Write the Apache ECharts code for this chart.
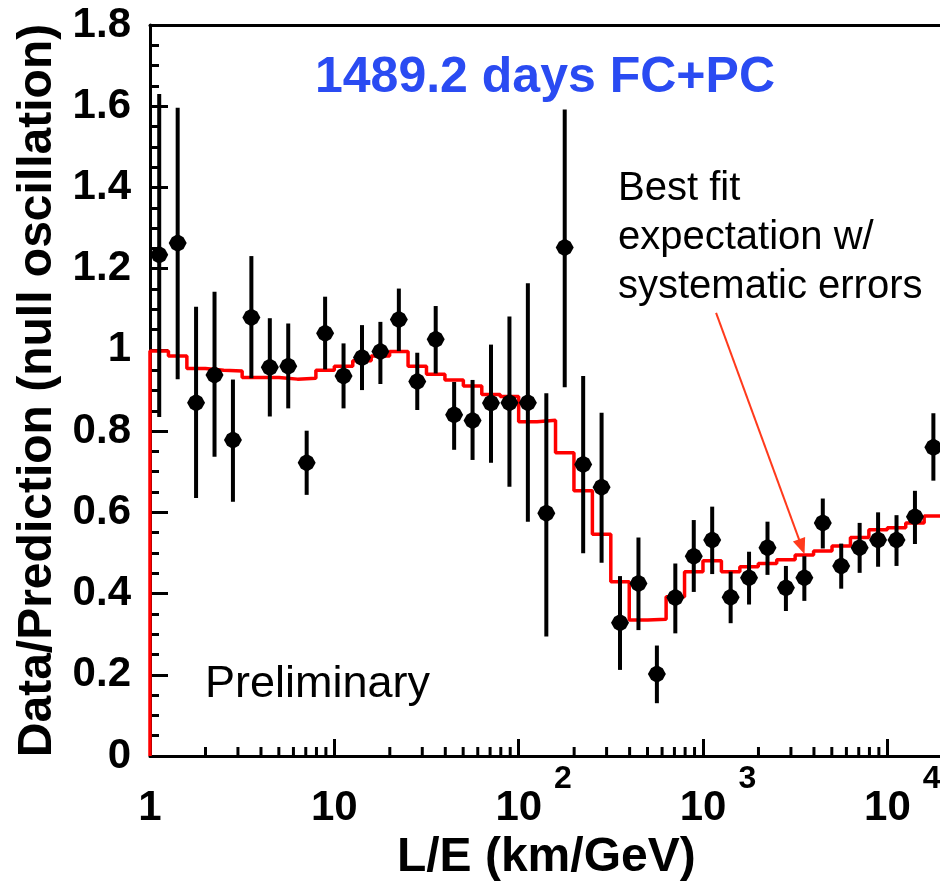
<!DOCTYPE html>
<html>
<head>
<meta charset="utf-8">
<script src="https://cdn.jsdelivr.net/npm/echarts@6/dist/echarts.min.js"></script>
<style>
  html, body { margin: 0; padding: 0; background: #fff; }
  #main { width: 940px; height: 882px; }
</style>
</head>
<body>
<div id="main"></div>
<script>
// L/E binning (km/GeV): ten logarithmic bins per decade
const binEdges = [
  1, 1.259, 1.585, 1.995, 2.512, 3.162, 3.981, 5.012, 6.310, 7.943,
  10, 12.59, 15.85, 19.95, 25.12, 31.62, 39.81, 50.12, 63.10, 79.43,
  100, 125.9, 158.5, 199.5, 251.2, 316.2, 398.1, 501.2, 631.0, 794.3,
  1000, 1259, 1585, 1995, 2512, 3162, 3981, 5012, 6310, 7943,
  10000, 12589, 15849, 19953
];
const binCenters = [
  1.122, 1.413, 1.778, 2.239, 2.818, 3.548, 4.467, 5.623, 7.079, 8.913,
  11.22, 14.13, 17.78, 22.39, 28.18, 35.48, 44.67, 56.23, 70.79, 89.13,
  112.2, 141.3, 177.8, 223.9, 281.8, 354.8, 446.7, 562.3, 707.9, 891.3,
  1122, 1413, 1778, 2239, 2818, 3548, 4467, 5623, 7079, 8913,
  11220, 14125, 17783
];

// Data / null-oscillation prediction per bin
const dataRatio = [
  1.234, 1.263, 0.870, 0.938, 0.778, 1.080, 0.957, 0.960, 0.722, 1.041,
  0.936, 0.981, 0.996, 1.075, 0.922, 1.026, 0.840, 0.826, 0.869, 0.870,
  0.870, 0.598, 1.252, 0.718, 0.662, 0.328, 0.425, 0.202, 0.390, 0.492,
  0.532, 0.391, 0.439, 0.513, 0.414, 0.439, 0.574, 0.468, 0.513, 0.532,
  0.532, 0.589, 0.760
];
// Statistical error band edges
const dataUpper = [
  1.630, 1.596, 1.106, 1.143, 0.927, 1.231, 1.078, 1.065, 0.801, 1.131,
  1.016, 1.061, 1.069, 1.151, 0.993, 1.108, 0.921, 0.926, 1.013, 1.082,
  1.164, 0.893, 1.592, 0.936, 0.845, 0.443, 0.538, 0.272, 0.474, 0.581,
  0.614, 0.454, 0.503, 0.577, 0.468, 0.492, 0.634, 0.523, 0.574, 0.600,
  0.593, 0.653, 0.844
];
const dataLower = [
  0.835, 0.928, 0.635, 0.737, 0.626, 0.930, 0.836, 0.856, 0.643, 0.952,
  0.856, 0.901, 0.916, 0.997, 0.852, 0.942, 0.754, 0.729, 0.722, 0.663,
  0.577, 0.294, 0.908, 0.499, 0.476, 0.212, 0.310, 0.130, 0.302, 0.404,
  0.448, 0.327, 0.373, 0.446, 0.357, 0.382, 0.511, 0.412, 0.451, 0.466,
  0.468, 0.522, 0.678
];

// Best-fit oscillation expectation (with systematic errors), per bin
const bestFit = [
  0.997, 0.985, 0.954, 0.950, 0.948, 0.932, 0.932, 0.928, 0.930, 0.950,
  0.960, 0.973, 0.985, 0.996, 0.960, 0.940, 0.926, 0.911, 0.890, 0.885,
  0.823, 0.827, 0.747, 0.653, 0.546, 0.429, 0.335, 0.337, 0.392, 0.454,
  0.481, 0.454, 0.466, 0.474, 0.483, 0.495, 0.505, 0.517, 0.538, 0.557,
  0.562, 0.574, 0.591
];

// Axis ranges and labelled decades
const xMin = 1, xMax = 19953;
const xDecades = [1, 10, 100, 1000, 10000];
const xMinorMultipliers = [2, 3, 4, 5, 6, 7, 8, 9];
const yMin = 0, yMax = 1.8, yStep = 0.2;

// Annotation arrow (data coordinates)
const arrowTail = [1178, 1.091];
const arrowHead = [3436, 0.515];

const FONT = 'Liberation Sans, Arial, Helvetica, sans-serif';

// Step outline of the histogram: rises from 0 at the first edge
const stepPoints = [[binEdges[0], 0]];
bestFit.forEach((v, i) => stepPoints.push([binEdges[i], v]));
stepPoints.push([binEdges[binEdges.length - 1], bestFit[bestFit.length - 1]]);

// Minor tick positions on the logarithmic axis
const xMinorTicks = [];
xDecades.forEach(d => xMinorMultipliers.forEach(m => {
  const v = d * m;
  if (v < xMax) xMinorTicks.push([v, 0]);
}));

const errorData = binCenters.map((x, i) => [x, dataLower[i], dataUpper[i]]);
const pointData = binCenters.map((x, i) => [x, dataRatio[i]]);

const chart = echarts.init(document.getElementById('main'), null, { renderer: 'canvas' });

function isDecade(v) {
  const l = Math.log10(v);
  return Math.abs(l - Math.round(l)) < 1e-6;
}

chart.setOption({
  animation: false,
  backgroundColor: '#ffffff',
  grid: {
    left: 150, top: 25, width: 792.6, bottom: 126,
    containLabel: false, outerBoundsMode: 'none'
  },
  xAxis: [
    {
      type: 'log', logBase: 10, min: xMin, max: xMax,
      position: 'bottom',
      axisLine: { onZero: false, lineStyle: { color: '#000', width: 3 } },
      axisTick: { inside: true, length: 17, lineStyle: { color: '#000', width: 3 } },
      minorTick: { show: false },
      splitLine: { show: false },
      axisLabel: {
        margin: 7,
        showMinLabel: true,
        showMaxLabel: true,
        formatter: function (v) {
          if (!isDecade(v)) return '';
          const e = Math.round(Math.log10(v));
          if (e === 0) return '{b|1}';
          if (e === 1) return '{b|10}';
          return '{pad|}{b|10}{sup|' + e + '}';
        },
        rich: {
          b: { fontFamily: FONT, fontWeight: 'bold', fontSize: 42, lineHeight: 90, color: '#000' },
          sup: { fontFamily: FONT, fontWeight: 'bold', fontSize: 32, lineHeight: 32, verticalAlign: 'top', padding: [0, 0, 0, 12], color: '#000' },
          pad: { width: 30 }
        }
      },
      name: 'L/E (km/GeV)',
      nameLocation: 'middle',
      nameGap: 76,
      nameTextStyle: { fontFamily: FONT, fontWeight: 'bold', fontSize: 48, lineHeight: 48, color: '#000' }
    },
    {
      type: 'log', logBase: 10, min: xMin, max: xMax,
      position: 'top',
      axisLine: { onZero: false, lineStyle: { color: '#000', width: 3 } },
      axisTick: { show: false },
      axisLabel: { show: false },
      splitLine: { show: false }
    }
  ],
  yAxis: {
    type: 'value', min: yMin, max: yMax, interval: yStep,
    axisLine: { show: true, onZero: false, lineStyle: { color: '#000', width: 3 } },
    axisTick: { show: true, inside: true, length: 18, lineStyle: { color: '#000', width: 3 } },
    minorTick: { show: true, splitNumber: 4, length: 9, lineStyle: { color: '#000', width: 3 } },
    splitLine: { show: false },
    axisLabel: {
      margin: 19,
      padding: [8, 0, 0, 0],
      fontFamily: FONT, fontWeight: 'bold', fontSize: 42, color: '#000',
      formatter: function (v) {
        if (Math.abs(v) < 1e-9) return '0';
        if (Math.abs(v - 1) < 1e-9) return '1';
        return v.toFixed(1);
      }
    },
    name: 'Data/Prediction (null oscillation)',
    nameLocation: 'middle',
    nameRotate: 90,
    nameGap: 87,
    nameTextStyle: { fontFamily: FONT, fontWeight: 'bold', fontSize: 48, lineHeight: 48, color: '#000' }
  },
  series: [
    {
      name: 'expectation',
      type: 'line',
      step: 'end',
      data: stepPoints,
      showSymbol: false,
      symbol: 'none',
      lineStyle: { color: '#ff0000', width: 3.5 },
      z: 2,
      silent: true,
      markLine: {
        silent: true,
        symbol: ['none', 'triangle'],
        symbolSize: [13, 16],
        lineStyle: { color: '#ff3a1c', width: 2, type: 'solid' },
        label: { show: false },
        data: [[{ coord: arrowTail }, { coord: arrowHead }]]
      }
    },
    {
      name: 'minor ticks',
      type: 'custom',
      data: xMinorTicks,
      clip: false,
      silent: true,
      z: 1,
      renderItem: function (params, api) {
        const p = api.coord([api.value(0), api.value(1)]);
        return {
          type: 'line',
          shape: { x1: p[0], y1: p[1], x2: p[0], y2: p[1] - 9 },
          style: { stroke: '#000', lineWidth: 3 }
        };
      }
    },
    {
      name: 'errors',
      type: 'custom',
      data: errorData,
      encode: { x: 0, y: [1, 2] },
      silent: true,
      z: 3,
      renderItem: function (params, api) {
        const lo = api.coord([api.value(0), api.value(1)]);
        const hi = api.coord([api.value(0), api.value(2)]);
        return {
          type: 'line',
          shape: { x1: lo[0], y1: lo[1], x2: hi[0], y2: hi[1] },
          style: { stroke: '#000', lineWidth: 4 }
        };
      }
    },
    {
      name: 'data',
      type: 'scatter',
      data: pointData,
      symbol: 'path://M0,-9 L5.8,-5.8 L9,0 L5.8,5.8 L0,9 L-5.8,5.8 L-9,0 L-5.8,-5.8 Z',
      symbolSize: 18,
      itemStyle: { color: '#000', opacity: 1 },
      silent: true,
      z: 4
    }
  ],
  graphic: [
    {
      type: 'text', x: 315, y: 78.5, z: 10,
      style: { text: '1489.2 days FC+PC', fontFamily: FONT, fontWeight: 'bold', fontSize: 50, fill: '#2a4bf2', align: 'left', verticalAlign: 'middle' }
    },
    {
      type: 'text', x: 618, y: 164.5, z: 10,
      style: { text: 'Best fit\nexpectation w/\nsystematic errors', fontFamily: FONT, fontSize: 40, lineHeight: 49, fill: '#000', align: 'left', verticalAlign: 'top' }
    },
    {
      type: 'text', x: 205, y: 684.5, z: 10,
      style: { text: 'Preliminary', fontFamily: FONT, fontSize: 45, fill: '#000', align: 'left', verticalAlign: 'middle' }
    }
  ]
});
</script>
</body>
</html>
